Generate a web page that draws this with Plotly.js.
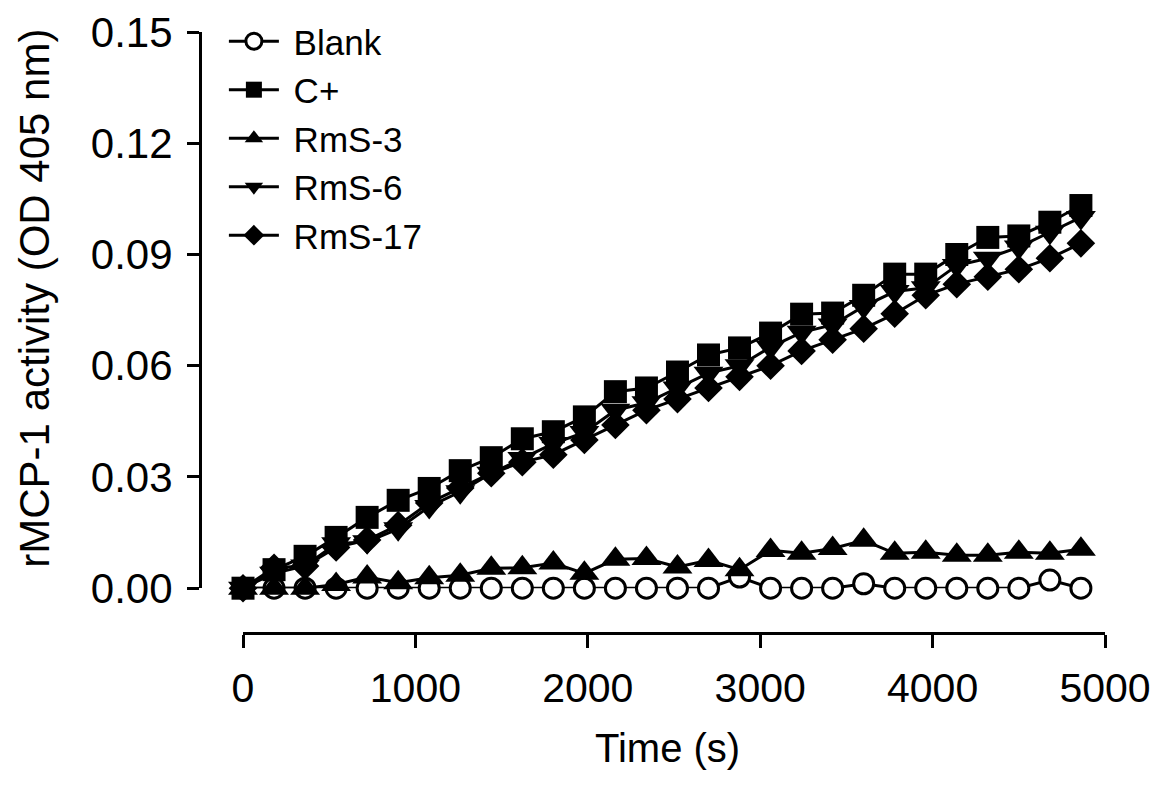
<!DOCTYPE html>
<html>
<head>
<meta charset="utf-8">
<script src="https://cdn.plot.ly/plotly-3.0.1.min.js"></script>
<style>html,body{margin:0;padding:0;background:#fff;}#chart{width:1169px;height:785px;}</style>
</head>
<body>
<div id="chart"></div>
<script>
const time = [0,180,360,540,720,900,1080,1260,1440,1620,1800,1980,2160,2340,2520,2700,2880,3060,3240,3420,3600,3780,3960,4140,4320,4500,4680,4860];
const blank = [0,0,0,0,0,0,0,0,0,0,0,0,0,0,0,0,0.003,0,0,0,0.0012,0,0,0,0,0,0.0022,0];
const cPlus = [0,0.005,0.0086,0.0137,0.0191,0.0237,0.0269,0.0317,0.0352,0.0403,0.0422,0.0462,0.053,0.054,0.0583,0.0629,0.0648,0.0688,0.0739,0.0742,0.079,0.0847,0.0847,0.090,0.0946,0.095,0.0987,0.1032];
const rms3 = [0,0,0,0.001,0.003,0.0015,0.0028,0.0035,0.0054,0.0055,0.0068,0.004,0.0078,0.008,0.0057,0.0075,0.005,0.0102,0.0094,0.0107,0.0129,0.0094,0.0097,0.0089,0.0089,0.0097,0.0094,0.0105];
const rms6 = [0,0.004,0.006,0.012,0.0125,0.016,0.022,0.026,0.031,0.035,0.039,0.042,0.048,0.050,0.054,0.058,0.060,0.065,0.069,0.071,0.076,0.080,0.081,0.087,0.089,0.092,0.096,0.100];
const rms17 = [0,0.0055,0.006,0.011,0.013,0.017,0.023,0.027,0.031,0.034,0.036,0.040,0.044,0.048,0.051,0.054,0.057,0.060,0.064,0.067,0.070,0.074,0.079,0.082,0.084,0.086,0.089,0.093];
const seriesNames = ['Blank','C+','RmS-3','RmS-6','RmS-17'];
const xTicks = [0,1000,2000,3000,4000,5000];
const yTicks = [0,0.03,0.06,0.09,0.12,0.15];

const F = 'Liberation Sans, Arial, sans-serif';
const line = {color:'#000', width:3};

function tr(name, y, symbol, size, rank, fill){
  return {x: time, y: y, name: '\u00a0' + name, type:'scatter', mode:'lines+markers',
    line: line, cliponaxis:false, legendrank: rank,
    marker:{symbol: symbol, size: size, color: fill||'#000', line:{color:'#000', width: fill?3:0}}};
}
const data = [
  tr(seriesNames[0], blank, 'circle', 20, 1, '#fff'),
  tr(seriesNames[2], rms3, 'triangle-up', 26, 3),
  tr(seriesNames[4], rms17, 'diamond', 22, 5),
  tr(seriesNames[3], rms6, 'triangle-down', 26, 4),
  tr(seriesNames[1], cPlus, 'square', 23, 2)
];

const layout = {
  width:1169, height:785,
  margin:{l:200, r:50, t:30, b:145, pad:0},
  paper_bgcolor:'#fff', plot_bgcolor:'#fff',
  showlegend:true,
  legend:{x:0.026, xanchor:'left', y:1.033, yanchor:'top', font:{family:F, size:35, color:'#000'},
          bgcolor:'rgba(0,0,0,0)', itemwidth:50, tracegroupgap:0},
  xaxis:{domain:[0.0468,0.9848], range:[0,5000], anchor:'free', position:0.0115,
    showline:true, linewidth:3, linecolor:'#000', ticks:'outside', ticklen:13, tickwidth:3, tickcolor:'#000',
    tickmode:'array', tickvals:xTicks, ticktext:xTicks.map(String),
    showgrid:false, zeroline:false, tickfont:{family:F, size:41, color:'#000'}, ticklabelstandoff:5},
  yaxis:{domain:[0.0852,1], range:[0,0.15], anchor:'free', position:0,
    showline:true, linewidth:3, linecolor:'#000', ticks:'outside', ticklen:12, tickwidth:3, tickcolor:'#000',
    tickmode:'array', tickvals:yTicks, ticktext:yTicks.map(v=>v.toFixed(2)),
    showgrid:false, zeroline:false, tickfont:{family:F, size:42, color:'#000'}, ticklabelstandoff:6},
  annotations:[
    {text:'Time (s)', xref:'paper', yref:'paper', x:0.5082, y:-0.177, xanchor:'center', yanchor:'middle',
     showarrow:false, font:{family:F, size:40, color:'#000'}},
    {text:'rMCP-1 activity (OD 405 nm)', xref:'paper', yref:'paper', x:-0.18, y:0.5623, textangle:-90,
     xanchor:'center', yanchor:'middle', showarrow:false, font:{family:F, size:42, color:'#000'}}
  ]
};
Plotly.newPlot('chart', data, layout, {staticPlot:true, displayModeBar:false});
</script>
</body>
</html>
